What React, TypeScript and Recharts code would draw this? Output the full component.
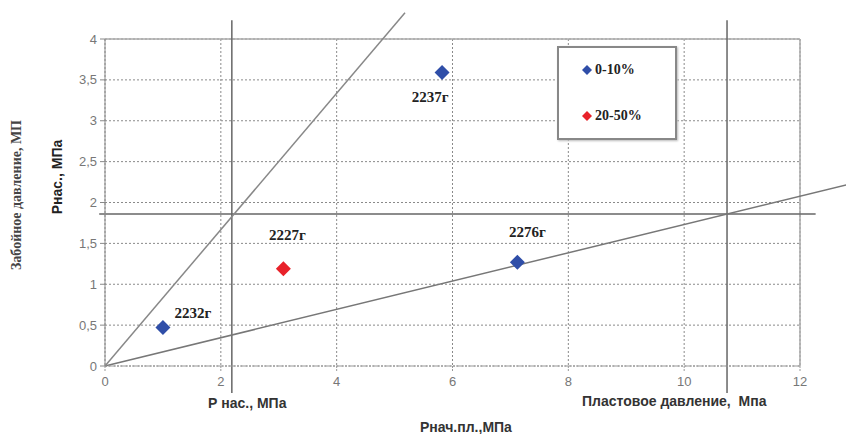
import React from 'react';
import {
  ScatterChart,
  Scatter,
  XAxis,
  YAxis,
  CartesianGrid,
  ReferenceLine,
} from 'recharts';

// ---- data ----
const xTicks = [0, 2, 4, 6, 8, 10, 12];
const yTicks = [0, 0.5, 1, 1.5, 2, 2.5, 3, 3.5, 4];

const lowWells = ['2232г', '2237г', '2276г'];
const lowX = [1.0, 5.82, 7.12];
const lowY = [0.47, 3.59, 1.27];

const highWells = ['2227г'];
const highX = [3.08];
const highY = [1.19];

const seriesNames = ['0-10%', '20-50%'];

// saturation pressure / reservoir pressure guide lines (MPa)
const pSat = 2.19;
const pSatLevel = 1.86;
const pRes = 10.74;
// bounding lines (from origin)
const steepLine = [
  { x: 0, y: 0 },
  { x: 5.18, y: 4.32 },
];
const shallowLine = [
  { x: 0, y: 0 },
  { x: 13.0, y: 2.25 },
];

const lowData = lowWells.map((name, i) => ({ name, x: lowX[i], y: lowY[i] }));
const highData = highWells.map((name, i) => ({ name, x: highX[i], y: highY[i] }));

// ---- styles ----
const labelOffsets: Record<string, [number, number]> = {
  '2232г': [30, -15],
  '2227г': [4, -34],
  '2237г': [-12, 24],
  '2276г': [10, -30],
};

const BLUE = '#2f4ea8';
const RED = '#e8222a';

const makeShape = (color: string) => (props: any) => {
  const { cx, cy, payload } = props;
  const r = 7.5;
  const off = labelOffsets[payload.name] || [0, -20];
  return (
    <g>
      <polygon
        points={`${cx},${cy - r} ${cx + r},${cy} ${cx},${cy + r} ${cx - r},${cy}`}
        fill={color}
      />
      <text
        x={cx + off[0]}
        y={cy + off[1] + 5}
        textAnchor="middle"
        fontFamily="'Liberation Serif', serif"
        fontWeight="bold"
        fontSize={15}
        fill="#222"
      >
        {payload.name}
      </text>
    </g>
  );
};

const fmt = (v: number) => String(v).replace('.', ',');

const tickStyle = { fontFamily: "'Liberation Sans', Arial, sans-serif", fontSize: 13, fill: '#777' };

const overlayText: React.CSSProperties = {
  position: 'absolute',
  fontFamily: "'Liberation Sans', Arial, sans-serif",
  fontWeight: 'bold',
  fontSize: 14,
  color: '#333',
  whiteSpace: 'pre',
  lineHeight: '16px',
};

export default function App() {
  return (
    <div style={{ position: 'absolute', left: 0, top: 0, width: 846, height: 434, background: '#fff' }}>
      <ScatterChart width={846} height={434} margin={{ top: 39, right: 46, bottom: 0, left: 0 }}>
        <CartesianGrid stroke="#8a8a8a" strokeDasharray="2 2" />
        <XAxis
          type="number"
          dataKey="x"
          domain={[0, 12]}
          ticks={xTicks}
          height={68}
          tick={tickStyle}
          tickSize={5}
          tickMargin={6}
          stroke="#999"
          strokeDasharray="2 1"
          allowDataOverflow
        />
        <YAxis
          type="number"
          dataKey="y"
          domain={[0, 4]}
          ticks={yTicks}
          width={105}
          tick={tickStyle}
          tickFormatter={fmt}
          tickSize={5}
          tickMargin={3}
          stroke="#888"
          allowDataOverflow
        />
        <ReferenceLine y={4} stroke="#aaa" strokeWidth={1.5} />
        <ReferenceLine x={12} stroke="#aaa" strokeWidth={1.5} />
        <ReferenceLine
          segment={[{ x: -0.1, y: pSatLevel }, { x: 12.27, y: pSatLevel }]}
          stroke="#666"
          strokeWidth={1.5}
          ifOverflow="visible"
        />
        <ReferenceLine
          segment={[{ x: pSat, y: 4.23 }, { x: pSat, y: -0.33 }]}
          stroke="#666"
          strokeWidth={1.5}
          ifOverflow="visible"
        />
        <ReferenceLine
          segment={[{ x: pRes, y: 4.23 }, { x: pRes, y: -0.33 }]}
          stroke="#666"
          strokeWidth={1.5}
          ifOverflow="visible"
        />
        <ReferenceLine segment={steepLine} stroke="#888" strokeWidth={1.5} ifOverflow="visible" />
        <ReferenceLine segment={shallowLine} stroke="#777" strokeWidth={1.5} ifOverflow="visible" />
        <Scatter name={seriesNames[0]} data={lowData} shape={makeShape(BLUE)} isAnimationActive={false} />
        <Scatter name={seriesNames[1]} data={highData} shape={makeShape(RED)} isAnimationActive={false} />
      </ScatterChart>

      {/* legend */}
      <div
        style={{
          position: 'absolute',
          left: 557,
          top: 46,
          width: 116,
          height: 90,
          border: '2px solid #888',
          background: '#fff',
          boxShadow: '1px 1px 2px #bbb',
          fontFamily: "'Liberation Serif', serif",
          fontWeight: 'bold',
          fontSize: 14,
          color: '#222',
        }}
      >
        {seriesNames.map((n, i) => (
          <div
            key={n}
            style={{ position: 'absolute', left: 22, top: 14 + i * 46, display: 'flex', alignItems: 'center' }}
          >
            <svg width={12} height={12} style={{ marginRight: 2 }}>
              <polygon points="6,1 11,6 6,11 1,6" fill={i === 0 ? BLUE : RED} />
            </svg>
            <span>{n}</span>
          </div>
        ))}
      </div>

      {/* axis titles */}
      <div style={{ ...overlayText, left: 208, top: 395 }}>Р нас., МПа</div>
      <div style={{ ...overlayText, left: 420, top: 419 }}>Рнач.пл.,МПа</div>
      <div style={{ ...overlayText, left: 582, top: 393 }}>Пластовое давление,  Мпа</div>
      <div
        style={{
          ...overlayText,
          left: 57,
          top: 177,
          transform: 'translate(-50%, -50%) rotate(-90deg)',
          color: '#222',
        }}
      >
        Рнас., МПа
      </div>
      <div
        style={{
          ...overlayText,
          left: 17,
          top: 195,
          transform: 'translate(-50%, -50%) rotate(-90deg)',
          fontFamily: "'Liberation Serif', serif",
          fontSize: 14,
          color: '#444',
        }}
      >
        Забойное давление, МП
      </div>
    </div>
  );
}
